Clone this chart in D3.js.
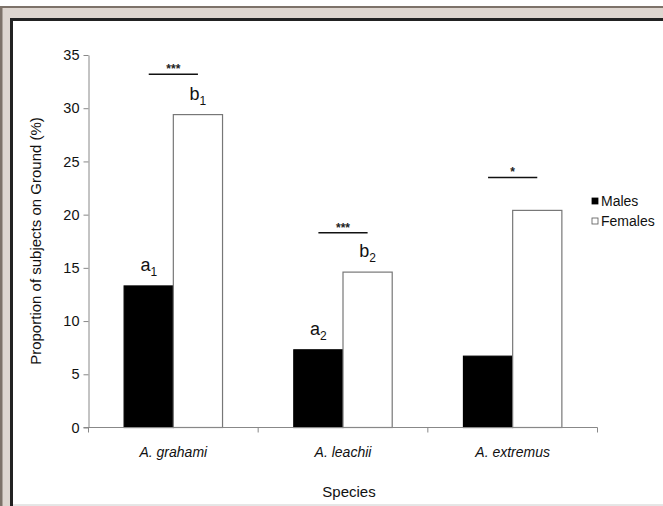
<!DOCTYPE html>
<html>
<head>
<meta charset="utf-8">
<script src="https://cdn.jsdelivr.net/npm/d3@7"></script>
<style>
  body { margin: 0; background: #fff; }
  svg { display: block; font-family: "Liberation Sans", Arial, sans-serif; }
</style>
</head>
<body>
<svg width="663" height="506"></svg>
<script>
// data
var species = ["A. grahami", "A. leachii", "A. extremus"];
var sexes = ["Males", "Females"];
var males = [13.3, 7.3, 6.7];
var females = [29.4, 14.6, 20.4];
var yTicks = [0, 5, 10, 15, 20, 25, 30, 35];
// significance bars (level in % units) and letters
var sigLevel = [33.2, 18.3, 23.5];
var sigStars = ["***", "***", "*"];
var maleLetters = [["a", "1"], ["a", "2"], null];
var femaleLetters = [["b", "1"], ["b", "2"], null];

var FONT = "'Liberation Sans', Arial, sans-serif";

var svg = d3.select("svg"),
  width = +svg.attr("width"),
  height = +svg.attr("height");

// picture frame
svg.append("rect").attr("x", 0).attr("y", 6).attr("width", width + 10).attr("height", height)
  .attr("fill", "#ded6d0");
svg.append("line").attr("x1", 0).attr("x2", width).attr("y1", 7).attr("y2", 7)
  .attr("stroke", "#7d7269").attr("stroke-width", 2);
svg.append("line").attr("x1", 1).attr("x2", 1).attr("y1", 6).attr("y2", height)
  .attr("stroke", "#7d7269").attr("stroke-width", 3);
svg.append("rect").attr("x", 10).attr("y", 18).attr("width", width).attr("height", height)
  .attr("fill", "#fff");
svg.append("line").attr("x1", 10).attr("x2", width).attr("y1", 19.5).attr("y2", 19.5)
  .attr("stroke", "#222").attr("stroke-width", 3);
svg.append("line").attr("x1", 11.5).attr("x2", 11.5).attr("y1", 18).attr("y2", height)
  .attr("stroke", "#222").attr("stroke-width", 3);
svg.append("line").attr("x1", 13).attr("x2", width).attr("y1", 505).attr("y2", 505)
  .attr("stroke", "#ccc").attr("stroke-width", 1);

var x0 = 88.5, x1 = 597.5, yTop = 55, yBot = 427.5;

var x = d3.scaleBand().domain(species).range([x0, x1]).paddingInner(0.42).paddingOuter(0.21);
var xs = d3.scaleBand().domain(sexes).range([0, x.bandwidth()]);
var y = d3.scaleLinear().domain([0, 35]).range([yBot, yTop]);

var rows = species.map(function(s, i) {
  return { sp: s, i: i, vals: [males[i], females[i]] };
});

// bars
var g = svg.append("g");
var grp = g.selectAll("g.sp").data(rows).enter().append("g")
  .attr("transform", function(d) { return "translate(" + x(d.sp) + ",0)"; });

grp.selectAll("rect").data(function(d) {
  return d.vals.map(function(v, j) { return { sex: sexes[j], v: v }; });
}).enter().append("rect")
  .attr("x", function(d) { return xs(d.sex); })
  .attr("y", function(d) { return y(d.v); })
  .attr("width", xs.bandwidth())
  .attr("height", function(d) { return yBot - y(d.v); })
  .attr("fill", function(d) { return d.sex == "Males" ? "#000" : "#fff"; })
  .attr("stroke", function(d) { return d.sex == "Males" ? "#000" : "#777"; })
  .attr("stroke-width", 1.2);

// y axis
var yAxis = d3.axisLeft(y).tickValues(yTicks).tickSize(5).tickSizeOuter(0);
var ya = svg.append("g").attr("transform", "translate(" + x0 + ",0)").call(yAxis)
  .attr("font-family", FONT).attr("font-size", 14.5);
ya.select(".domain").attr("stroke", "#888");
ya.selectAll(".tick line").attr("stroke", "#888");
ya.selectAll(".tick text").attr("fill", "#111").attr("x", -9);

// x axis with separators between categories
svg.append("line").attr("x1", x0 - 5).attr("x2", x1).attr("y1", yBot).attr("y2", yBot)
  .attr("stroke", "#888");
var step = (x1 - x0) / species.length;
d3.range(species.length + 1).forEach(function(k) {
  svg.append("line").attr("x1", x0 + k * step).attr("x2", x0 + k * step)
    .attr("y1", yBot).attr("y2", yBot + 5).attr("stroke", "#888");
});
svg.selectAll("text.cat").data(species).enter().append("text")
  .attr("class", "cat")
  .attr("x", function(d) { return x(d) + x.bandwidth() / 2; })
  .attr("y", 457)
  .attr("text-anchor", "middle")
  .attr("font-size", 14).attr("font-style", "italic").attr("fill", "#111")
  .text(function(d) { return d; });

// axis titles
svg.append("text").attr("x", 349).attr("y", 497).attr("text-anchor", "middle")
  .attr("font-size", 15).attr("fill", "#111").text("Species");
svg.append("text").attr("transform", "translate(41,241) rotate(-90)")
  .attr("text-anchor", "middle").attr("font-size", 15).attr("fill", "#111")
  .text("Proportion of subjects on Ground (%)");

// significance bars
rows.forEach(function(d) {
  var cx1 = x(d.sp) + xs("Males") + xs.bandwidth() / 2;
  var cx2 = x(d.sp) + xs("Females") + xs.bandwidth() / 2;
  var ly = y(sigLevel[d.i]);
  svg.append("line").attr("x1", cx1).attr("x2", cx2).attr("y1", ly).attr("y2", ly)
    .attr("stroke", "#111").attr("stroke-width", 1.5);
  svg.append("text").attr("x", (cx1 + cx2) / 2).attr("y", ly - 1)
    .attr("text-anchor", "middle").attr("font-size", 12).attr("font-weight", "bold")
    .attr("fill", "#222")
    .text(sigStars[d.i]);

  [maleLetters[d.i], femaleLetters[d.i]].forEach(function(lab, j) {
    if (!lab) return;
    var cx = j == 0 ? cx1 : cx2;
    var t = svg.append("text").attr("x", cx).attr("y", y(d.vals[j]) - 15)
      .attr("text-anchor", "middle").attr("font-size", 18).attr("fill", "#111");
    t.append("tspan").text(lab[0]);
    t.append("tspan").attr("font-size", 12).attr("dy", 5).text(lab[1]);
  });
});

// legend
var leg = svg.append("g").attr("transform", "translate(592,198)");
var li = leg.selectAll("g").data(sexes).enter().append("g")
  .attr("transform", function(d, i) { return "translate(0," + i * 20 + ")"; });
li.append("rect").attr("width", 6).attr("height", 6)
  .attr("fill", function(d) { return d == "Males" ? "#000" : "#fff"; })
  .attr("stroke", function(d) { return d == "Males" ? "#000" : "#555"; })
  .attr("stroke-width", 0.8);
li.append("text").attr("x", 9).attr("y", 7.5).attr("font-size", 14).attr("fill", "#111")
  .text(function(d) { return d; });
</script>
</body>
</html>
